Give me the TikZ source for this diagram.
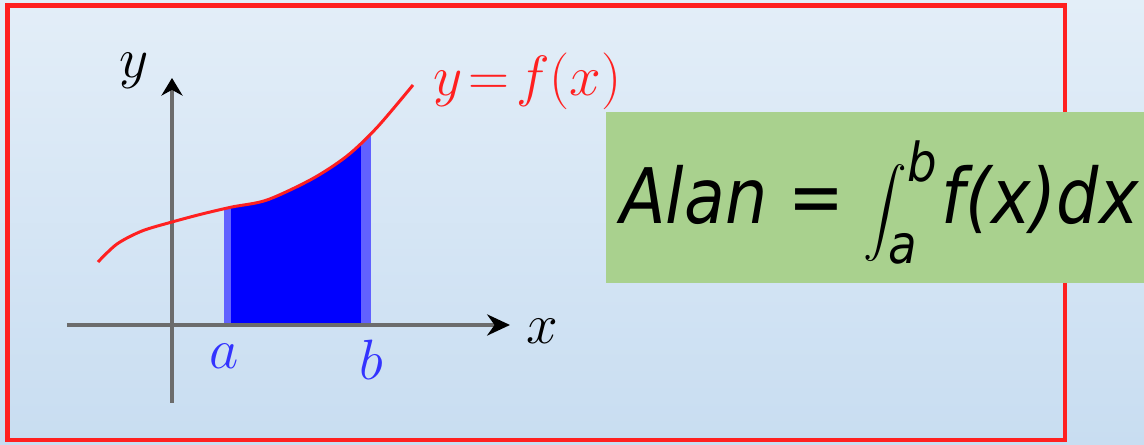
\documentclass[tikz,border=0pt]{standalone}
\usepackage{amsmath}
\usepackage{fontspec}
\usetikzlibrary{arrows.meta, calc}

\newfontfamily\formfont[FakeStretch=0.87]{DejaVu Sans}
\definecolor{bgtop}{RGB}{227,238,248}
\definecolor{bgbot}{RGB}{200,221,241}
\definecolor{framered}{RGB}{255,32,32}
\definecolor{axisgray}{RGB}{108,108,108}
\definecolor{boxgreen}{RGB}{169,209,142}
\definecolor{areablue}{RGB}{0,0,255}

\begin{document}
\begin{tikzpicture}[
        axis/.style={line width=2.2pt, draw=axisgray, -{Stealth[length=13pt, width=12pt, black]}},
        lbl/.style={font=\fontsize{24.88}{26}\selectfont, scale=1.3, transform shape, inner sep=0},
    ]
        % 背景 (background)
        \useasboundingbox (-3.44,-2.4) rectangle (19.44,6.5);
        \fill[top color=bgtop, bottom color=bgbot] (-3.44,-2.4) rectangle (19.44,6.5);

        % 红色边框
        \draw[framered, line width=2.4pt] (-3.29,-2.3) rectangle (17.86,6.39);

        % 坐标轴 (axes)
        \coordinate (O) at (0,0);
        \coordinate (x_lt) at (-2.1,0);
        \coordinate (x_rt) at (6.76,0);
        \coordinate (y_bot) at (0,-1.56);
        \coordinate (y_top) at (0,4.94);
        \coordinate (a) at (1.04,0);
        \coordinate (b) at (3.98,0);

        % 积分面积 a 到 b
        \begin{scope}
            \clip plot[smooth] coordinates {(-1.48,1.26) (-1.1,1.62) (-0.6,1.88) (0,2.06) (0.6,2.22)
                (1.2,2.36) (1.9,2.5) (2.8,2.92) (3.5,3.38) (4.1,3.95) (4.82,4.8)}
                -- (4.82,0) -- (-1.48,0) -- cycle;
            \fill[areablue!62] (a) rectangle ($(b) + (0,5)$);
            \fill[areablue] ($(a) + (0.14,0)$) rectangle ($(b) + (-0.2,4.88)$);
        \end{scope}

        \draw[axis] (x_lt) -- (x_rt);
        \draw[axis, -{Stealth[length=10pt, width=12pt, black]}] (y_bot) -- (y_top);

        % 曲线 y = f(x)
        \draw[framered, line width=1.7pt] plot[smooth] coordinates {(-1.48,1.26) (-1.1,1.62) (-0.6,1.88)
                (0,2.06) (0.6,2.22) (1.2,2.36) (1.9,2.5) (2.8,2.92) (3.5,3.38) (4.1,3.95) (4.82,4.8)};

        % 标签
        \node[lbl] (ylab) at (-0.76,5.08) {$y$};
        \node[lbl] (xlab) at (7.4,-0.12) {$x$};
        \node[lbl, text=areablue!80] (alab) at ($(a) + (0,-0.62)$) {$a$};
        \node[lbl, text=areablue!80] (blab) at ($(b) + (0,-0.7)$) {$b$};
        \node[lbl, text=framered, anchor=west] (flab) at (5.22,4.88) {$y\!=\!f(x)$};

        % 绿色公式框
        \node[fill=boxgreen, inner sep=0, anchor=north west, minimum width=10.76cm,
            minimum height=3.42cm] (formbox) at (8.68,4.26) {};
        \node[anchor=base west, inner sep=0, font=\formfont\fontsize{43.6}{48}\selectfont\itshape]
            (area) at (8.96,2.02) {Alan =\kern0.25em$\displaystyle\int_{\text{\itshape a}}^{\text{\itshape b}}$\kern0.05em f(x)dx};
\end{tikzpicture}
\end{document}
